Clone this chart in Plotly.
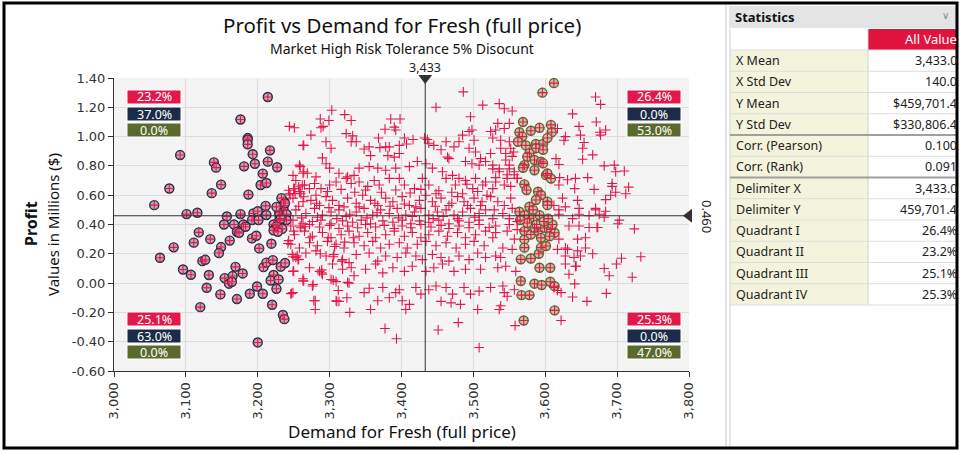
import plotly.graph_objects as go

# ---- data (x = demand, y = profit in millions) ----
red_pts = [
    # upper band
    (3244, 1.07), (3251, 1.06), (3287, 1.12), (3299, 1.11), (3288, 1.06), (3291, 1.07), (3303, 1.18),
    (3321, 1.15), (3330, 1.11), (3274, 1.01), (3263, 0.94), (3295, 0.965), (3302, 0.92), (3323, 1.02),
    (3332, 1.005), (3330, 0.965), (3337, 0.965), (3377, 1.05), (3385, 1.12), (3398, 1.12), (3392, 1.045),
    (3390, 1.065), (3368, 0.99), (3355, 0.93), (3348, 0.915), (3370, 0.925), (3378, 0.93), (3383, 0.93),
    (3404, 0.99), (3416, 0.98), (3407, 0.95), (3397, 0.94), (3290, 0.855), (3357, 0.87), (3381, 0.87),
    (3390, 0.86), (3397, 0.885), (3432, 0.99), (3436, 0.98), (3448, 1.2), (3486, 1.305), (3513, 1.215),
    (3496, 1.135), (3494, 1.035), (3498, 1.045), (3485, 1.01), (3480, 0.965), (3473, 0.93), (3462, 0.965),
    (3455, 0.91), (3464, 0.86), (3445, 0.94), (3438, 0.955), (3501, 0.975), (3494, 0.92), (3503, 0.895),
    (3510, 0.85), (3536, 1.225), (3543, 1.19), (3554, 1.175), (3670, 1.27), (3677, 1.22), (3638, 1.155),
    (3671, 1.10), (3684, 1.045), (3676, 1.03), (3677, 1.01), (3647, 1.07), (3649, 1.01), (3617, 1.055),
    (3628, 1.0), (3626, 0.975), (3654, 0.96), (3652, 0.92), (3666, 0.875), (3264, 0.94), (3534, 1.09),
    (3550, 1.09), (3543, 1.055), (3531, 1.045), (3524, 1.035), (3538, 0.975), (3527, 0.99), (3550, 0.965),
    (3552, 0.92), (3538, 0.92), (3524, 0.885), (3545, 0.885), (3556, 0.895),
    # 0.70 - 0.85
    (3258, 0.805), (3263, 0.75), (3249, 0.735), (3269, 0.75), (3281, 0.725), (3295, 0.815), (3300, 0.785),
    (3313, 0.75), (3325, 0.725), (3334, 0.735), (3341, 0.785), (3355, 0.795), (3367, 0.785), (3378, 0.77),
    (3392, 0.785), (3411, 0.795), (3422, 0.83), (3434, 0.815), (3443, 0.785), (3457, 0.76), (3471, 0.735),
    (3480, 0.715), (3489, 0.70), (3503, 0.715), (3517, 0.69), (3466, 0.85), (3489, 0.83), (3498, 0.815),
    (3508, 0.805), (3517, 0.83), (3259, 0.795), (3264, 0.76), (3652, 0.845), (3615, 0.85), (3619, 0.81),
    (3682, 0.80), (3696, 0.805), (3698, 0.76), (3710, 0.765), (3659, 0.72), (3642, 0.715), (3631, 0.705),
    (3620, 0.72), (3545, 0.84), (3554, 0.865), (3527, 0.805), (3536, 0.78), (3550, 0.805), (3557, 0.76),
    (3547, 0.74), (3531, 0.72), (3561, 0.715),
    # 0.55 - 0.70
    (3253, 0.70), (3265, 0.67), (3251, 0.645), (3244, 0.61), (3260, 0.61), (3272, 0.645), (3279, 0.68),
    (3288, 0.645), (3300, 0.67), (3309, 0.69), (3323, 0.715), (3330, 0.68), (3341, 0.69), (3353, 0.66),
    (3362, 0.70), (3369, 0.67), (3383, 0.715), (3397, 0.715), (3404, 0.67), (3418, 0.645), (3429, 0.715),
    (3438, 0.67), (3448, 0.61), (3462, 0.715), (3475, 0.67), (3485, 0.61), (3499, 0.645), (3513, 0.67),
    (3258, 0.625), (3281, 0.60), (3297, 0.625), (3316, 0.64), (3335, 0.62), (3350, 0.635), (3372, 0.62),
    (3392, 0.635), (3412, 0.615), (3427, 0.64), (3452, 0.63), (3470, 0.62), (3491, 0.675), (3506, 0.625),
    (3249, 0.58), (3263, 0.555), (3274, 0.565), (3286, 0.53), (3295, 0.59), (3304, 0.565), (3313, 0.53),
    (3325, 0.58), (3337, 0.545), (3346, 0.60), (3357, 0.565), (3367, 0.53), (3378, 0.58), (3388, 0.555),
    (3401, 0.59), (3411, 0.53), (3425, 0.565), (3434, 0.60), (3443, 0.555), (3455, 0.58), (3466, 0.53),
    (3478, 0.59), (3487, 0.555), (3501, 0.58), (3510, 0.53), (3519, 0.60),
    (3257, 0.525), (3282, 0.545), (3299, 0.515), (3320, 0.52), (3341, 0.52), (3363, 0.545), (3384, 0.525),
    (3404, 0.54), (3420, 0.52), (3447, 0.525), (3470, 0.545), (3492, 0.53), (3512, 0.555),
    # 0.40 - 0.52
    (3253, 0.50), (3267, 0.475), (3279, 0.51), (3290, 0.465), (3302, 0.485), (3313, 0.50), (3323, 0.455),
    (3337, 0.485), (3348, 0.51), (3360, 0.465), (3371, 0.50), (3383, 0.475), (3394, 0.51), (3406, 0.465),
    (3418, 0.485), (3427, 0.51), (3438, 0.465), (3450, 0.485), (3462, 0.50), (3473, 0.465), (3485, 0.485),
    (3496, 0.51), (3508, 0.475), (3517, 0.50),
    (3261, 0.445), (3283, 0.45), (3310, 0.44), (3328, 0.47), (3352, 0.445), (3366, 0.48), (3396, 0.445),
    (3415, 0.455), (3444, 0.44), (3458, 0.455), (3478, 0.44), (3502, 0.45),
    (3249, 0.43), (3263, 0.405), (3276, 0.42), (3288, 0.43), (3302, 0.405), (3318, 0.425), (3332, 0.415),
    (3344, 0.43), (3357, 0.405), (3374, 0.425), (3388, 0.415), (3401, 0.43), (3413, 0.405), (3425, 0.425),
    (3438, 0.415), (3452, 0.43), (3466, 0.405), (3480, 0.425), (3494, 0.415), (3508, 0.43),
    # right side 0.40 - 0.70
    (3624, 0.58), (3645, 0.565), (3628, 0.52), (3647, 0.51), (3670, 0.51), (3684, 0.49), (3619, 0.50),
    (3612, 0.53), (3641, 0.645), (3668, 0.64), (3693, 0.66), (3691, 0.60), (3716, 0.655), (3712, 0.61),
    (3619, 0.67), (3527, 0.78), (3536, 0.76), (3550, 0.78), (3557, 0.74), (3547, 0.715), (3531, 0.69),
    (3543, 0.67), (3527, 0.645), (3552, 0.66), (3561, 0.715), (3524, 0.59), (3534, 0.555), (3543, 0.53),
    (3552, 0.58), (3529, 0.50), (3541, 0.475), (3554, 0.51), (3527, 0.44), (3550, 0.44), (3561, 0.42),
    (3619, 0.47), (3638, 0.44), (3647, 0.47), (3661, 0.46), (3670, 0.50), (3675, 0.47), (3682, 0.45),
    (3703, 0.43), (3693, 0.68), (3698, 0.62), (3684, 0.57),
    # 0.30 - 0.40
    (3246, 0.39), (3260, 0.378), (3272, 0.40), (3286, 0.383), (3300, 0.394), (3313, 0.373), (3325, 0.39),
    (3339, 0.378), (3350, 0.40), (3364, 0.383), (3376, 0.394), (3390, 0.373), (3401, 0.39), (3413, 0.378),
    (3427, 0.40), (3441, 0.383), (3455, 0.394), (3466, 0.373), (3480, 0.39), (3494, 0.378), (3508, 0.40),
    (3251, 0.33), (3265, 0.355), (3276, 0.32), (3290, 0.345), (3302, 0.31), (3316, 0.33), (3327, 0.355),
    (3341, 0.32), (3353, 0.345), (3364, 0.31), (3378, 0.33), (3390, 0.355), (3404, 0.32), (3415, 0.345),
    (3427, 0.31), (3438, 0.33), (3452, 0.355), (3464, 0.32), (3478, 0.345), (3489, 0.31), (3503, 0.33),
    (3517, 0.355),
    # 0.15 - 0.30
    (3246, 0.265), (3258, 0.24), (3272, 0.275), (3283, 0.255), (3297, 0.285), (3309, 0.265), (3320, 0.24),
    (3334, 0.275), (3348, 0.255), (3360, 0.285), (3371, 0.24), (3383, 0.265), (3397, 0.275), (3408, 0.24),
    (3422, 0.265), (3434, 0.285), (3448, 0.255), (3462, 0.275), (3476, 0.24), (3489, 0.265), (3501, 0.285),
    (3515, 0.255),
    (3253, 0.175), (3267, 0.205), (3281, 0.22), (3295, 0.185), (3306, 0.195), (3318, 0.16), (3337, 0.195),
    (3355, 0.205), (3367, 0.15), (3378, 0.185), (3394, 0.175), (3406, 0.205), (3420, 0.185), (3429, 0.16),
    (3443, 0.195), (3455, 0.175), (3466, 0.15), (3480, 0.185), (3494, 0.16), (3506, 0.205), (3517, 0.175),
    # 0.0 - 0.15
    (3249, 0.08), (3272, 0.105), (3286, 0.08), (3304, 0.13), (3318, 0.095), (3330, 0.105), (3350, 0.095),
    (3364, 0.13), (3374, 0.07), (3388, 0.105), (3404, 0.08), (3415, 0.115), (3434, 0.08), (3445, 0.105),
    (3457, 0.13), (3473, 0.08), (3489, 0.095), (3510, 0.095),
    (3263, 0.015), (3276, -0.02), (3290, 0.06), (3302, 0.025), (3325, 0.005), (3334, 0.05), (3348, -0.065),
    (3355, -0.035), (3374, -0.03), (3383, -0.10), (3392, -0.065), (3397, -0.045), (3420, -0.03),
    (3427, -0.075), (3438, -0.045), (3448, -0.02), (3462, -0.03), (3471, -0.075), (3487, -0.03),
    # lower tail
    (3249, -0.065), (3280, -0.12), (3280, -0.18), (3309, -0.12), (3313, -0.125), (3328, -0.20),
    (3357, -0.18), (3367, -0.12), (3377, -0.31), (3393, -0.38), (3401, -0.12), (3406, -0.18),
    (3411, -0.145), (3451, -0.32), (3479, -0.27), (3508, -0.44), (3506, -0.18), (3455, -0.125),
    (3469, -0.135), (3482, -0.145), (3496, -0.075), (3508, -0.055),
    # right side below 0.40
    (3724, 0.37), (3733, 0.18), (3706, 0.17), (3699, 0.13), (3682, 0.10), (3689, 0.05), (3721, 0.04),
    (3685, -0.07), (3658, -0.125), (3638, -0.095), (3622, -0.255), (3558, -0.29), (3642, 0.115),
    (3633, 0.06), (3641, -0.005), (3617, -0.05), (3622, -0.065), (3612, -0.03), (3628, 0.24), (3645, 0.30),
    (3656, 0.31), (3656, 0.24), (3666, 0.20), (3649, 0.185), (3640, 0.175), (3628, 0.185), (3628, 0.13),
    (3643, 0.115), (3633, 0.39), (3647, 0.39), (3661, 0.38), (3672, 0.38), (3524, -0.03), (3541, -0.02),
    (3543, -0.065), (3547, -0.09), (3538, -0.155), (3536, -0.18), (3557, -0.045), (3559, 0.08),
    (3531, 0.185), (3538, 0.175), (3534, 0.105), (3545, 0.115), (3554, 0.23), (3541, 0.24), (3557, 0.30),
    (3527, 0.31), (3531, 0.345), (3547, 0.355), (3561, 0.365), (3522, 0.38), (3531, 0.39), (3550, 0.40),
    (3619, 0.30), (3617, 0.23), (3631, 0.23), (3645, 0.22), (3673, 0.38), (3701, 0.405),
    # left edge of the red cloud
    (3247, -0.07), (3263, 0.03), (3277, -0.01), (3278, -0.12), (3310, -0.125), (3324, -0.10),
    (3289, 0.09), (3289, 0.07), (3305, 0.02), (3309, 0.01), (3312, -0.05), (3327, 0.0), (3317, 0.15),
    (3327, 0.14), (3305, 0.18), (3287, 0.20), (3249, 0.18), (3256, 0.16), (3242, 0.27), (3273, 0.31),
    (3298, 0.31), (3307, 0.25), (3321, 0.28), (3333, 0.31), (3259, 0.39), (3266, 0.385),
    (3250, 0.355), (3243, 0.29), (3248, 0.196), (3255, 0.185), (3257, 0.162), (3250, 0.082), (3264, 0.014),
    (3246, -0.073), (3243, 0.634), (3250, 0.646), (3257, 0.658), (3262, 0.669), (3245, 0.601),
    (3252, 0.612), (3259, 0.624), (3264, 0.589),
]

dark_pts = [
    (3214, 1.27), (3176, 1.117), (3186, 0.99), (3186, 0.979), (3186, 0.947), (3092, 0.874), (3217, 0.906),
    (3193, 0.88), (3139, 0.824), (3142, 0.788), (3181, 0.797), (3196, 0.815), (3214, 0.829), (3227, 0.791),
    (3207, 0.747), (3077, 0.646), (3149, 0.672), (3204, 0.67), (3212, 0.683), (3136, 0.614), (3187, 0.604),
    (3056, 0.532), (3101, 0.471), (3116, 0.48), (3211, 0.527), (3236, 0.56), (3236, 0.53), (3236, 0.50),
    (3157, 0.455), (3176, 0.471), (3194, 0.475), (3200, 0.49), (3212, 0.465), (3230, 0.48), (3230, 0.465),
    (3230, 0.43), (3153, 0.40), (3167, 0.40), (3180, 0.40), (3192, 0.43), (3201, 0.43), (3222, 0.40),
    (3118, 0.346), (3134, 0.30), (3111, 0.276), (3083, 0.244), (3064, 0.173), (3161, 0.29), (3149, 0.246),
    (3146, 0.205), (3171, 0.35), (3174, 0.343), (3183, 0.385), (3192, 0.305), (3198, 0.323), (3202, 0.237),
    (3219, 0.269), (3225, 0.378), (3222, 0.36), (3227, 0.39), (3123, 0.15), (3127, 0.159), (3096, 0.093),
    (3107, 0.057), (3132, 0.055), (3169, 0.111), (3154, 0.034), (3165, 0.048), (3160, -0.004),
    (3164, 0.009), (3179, 0.066), (3208, 0.109), (3212, 0.14), (3221, 0.157), (3232, 0.112),
    (3238, 0.137), (3222, 0.055), (3218, 0.018), (3229, 0.025), (3199, -0.023), (3226, -0.039),
    (3129, -0.032), (3148, -0.077), (3171, -0.109), (3189, -0.073), (3207, -0.073), (3220, -0.148),
    (3120, -0.164), (3235, -0.218), (3237, -0.246), (3200, -0.405), (3233, 0.58), (3238, 0.545),
    (3226, 0.52), (3240, 0.47), (3234, 0.37), (3228, 0.35), (3240, 0.43), (3232, 0.44),
]

green_pts = [
    (3612, 1.365), (3596, 1.30), (3569, 1.10), (3580, 1.04), (3592, 1.06), (3608, 1.08), (3609, 1.03),
    (3564, 1.03), (3568, 1.0), (3562, 0.965), (3573, 0.94), (3587, 0.95), (3597, 0.95), (3603, 0.99),
    (3587, 0.92), (3597, 0.91), (3578, 0.886), (3575, 0.862), (3585, 0.84), (3594, 0.828), (3571, 0.805),
    (3585, 0.77), (3569, 0.787), (3597, 0.817), (3601, 0.737), (3608, 0.714), (3603, 0.748), (3571, 0.674),
    (3574, 0.635), (3590, 0.624), (3594, 0.601), (3603, 0.556), (3587, 0.567), (3578, 0.521), (3592, 0.464),
    (3564, 0.487), (3583, 0.50), (3603, 0.532), (3578, 0.442), (3571, 0.464), (3571, 0.298), (3571, 0.242),
    (3566, 0.162), (3580, 0.168), (3591, 0.20), (3594, 0.242), (3601, 0.253), (3571, 0.355), (3580, 0.332),
    (3590, 0.355), (3599, 0.377), (3608, 0.366), (3613, 0.344), (3585, 0.377), (3594, 0.309), (3606, 0.32),
    (3592, 0.105), (3607, 0.105), (3566, 0.014), (3585, -0.004), (3595, -0.013), (3607, 0.009),
    (3613, -0.021), (3567, -0.082), (3578, -0.082), (3613, -0.186), (3570, -0.255), (3588, 0.40),
    (3598, 0.42), (3610, 0.40), (3575, 0.41), (3604, 0.44), (3565, 0.43),
]

delim_x = 3433.0
delim_y = 0.4597

y_tickvals = [-0.6, -0.4, -0.2, 0.0, 0.2, 0.4, 0.6, 0.8, 1.0, 1.2, 1.4]
y_ticktext = ["-0.60", "-0.40", "-0.20", "0.00", "0.20", "0.40", "0.60", "0.80", "1.00", "1.20", "1.40"]

quad_tl = ["23.2%", "37.0%", "0.0%"]
quad_tr = ["26.4%", "0.0%", "53.0%"]
quad_bl = ["25.1%", "63.0%", "0.0%"]
quad_br = ["25.3%", "0.0%", "47.0%"]

stat_labels = ["X Mean", "X Std Dev", "Y Mean", "Y Std Dev", "Corr. (Pearson)", "Corr. (Rank)",
               "Delimiter X", "Delimiter Y", "Quadrant I", "Quadrant II", "Quadrant III", "Quadrant IV"]
stat_values = ["3,433.0", "140.0", "$459,701.4", "$330,806.4", "0.100", "0.091",
               "3,433.0", "459,701.4", "26.4%", "23.2%", "25.1%", "25.3%"]

RED = "#e3184a"
NAVY = "#1c2b48"
OLIVE = "#5b6a2c"

# plot area in pixels: x 114..689, y 78..371
def px(x):
    return (x - 114) / 575.0


def py(y):
    return (371 - y) / 293.0


def note(text, x, y, size, color="#111111", family="Noto Sans", xanchor="center", **kw):
    return dict(text=text, x=px(x), y=py(y), xref="paper", yref="paper", showarrow=False,
                xanchor=xanchor, yanchor="middle", font=dict(family=family, size=size, color=color), **kw)


all_pts = red_pts + dark_pts + green_pts

fig = go.Figure()
fig.add_trace(go.Scatter(
    x=[p[0] for p in dark_pts], y=[p[1] for p in dark_pts], mode="markers",
    marker=dict(symbol="circle", size=9, color="#c2a8b3", line=dict(color=NAVY, width=1.4)),
    hoverinfo="skip"))
fig.add_trace(go.Scatter(
    x=[p[0] for p in green_pts], y=[p[1] for p in green_pts], mode="markers",
    marker=dict(symbol="circle", size=9, color="#c9c0a6", line=dict(color=OLIVE, width=1.4)),
    hoverinfo="skip"))
fig.add_trace(go.Scatter(
    x=[p[0] for p in all_pts], y=[p[1] for p in all_pts], mode="markers",
    marker=dict(symbol="cross-thin", size=7, line=dict(color=RED, width=1.1)),
    hoverinfo="skip"))
# delimiter markers
fig.add_trace(go.Scatter(x=[delim_x], y=[1.4], mode="markers", cliponaxis=False,
                         marker=dict(symbol="triangle-down", size=12, color="#333333"), hoverinfo="skip"))
fig.add_trace(go.Scatter(x=[3800], y=[delim_y], mode="markers", cliponaxis=False,
                         marker=dict(symbol="triangle-left", size=12, color="#333333"), hoverinfo="skip"))

shapes = [
    dict(type="line", xref="x", yref="y", x0=delim_x, x1=delim_x, y0=-0.6, y1=1.4,
         line=dict(color="#333333", width=1)),
    dict(type="line", xref="x", yref="y", x0=3000, x1=3800, y0=delim_y, y1=delim_y,
         line=dict(color="#333333", width=1)),
]

annotations = [
    note("Profit vs Demand for Fresh (full price)", 402, 24.5, 20.5),
    note("Market High Risk Tolerance 5% Disocunt", 402, 48.5, 14),
    note("<b>Profit</b>", 31, 224, 16, textangle=-90),
    note("Values in Millions ($)", 53, 225, 15, textangle=-90),
    note("Demand for Fresh (full price)", 402, 431, 17),
    note("3,433", 114 + (delim_x - 3000) * 0.71875, 68, 12.5, color="#222222"),
    note("0.460", 707, 216, 13, color="#222222", textangle=90),
]

box_cols = [RED, NAVY, OLIVE]
for labels, cx, cys in [(quad_tl, 154, (97, 114, 130)), (quad_tr, 654, (97, 114, 130)),
                        (quad_bl, 154, (319, 336, 352)), (quad_br, 654, (319, 336, 352))]:
    for lab, col, cy in zip(labels, box_cols, cys):
        shapes.append(dict(type="rect", xref="paper", yref="paper", x0=px(cx - 27), x1=px(cx + 27),
                           y0=py(cy + 7), y1=py(cy - 7), fillcolor=col,
                           line=dict(color="#ffffff", width=1)))
        annotations.append(note(lab, cx, cy, 12.5, color="#ffffff", height=15, borderpad=0))

# statistics panel
shapes.append(dict(type="line", xref="paper", yref="paper", x0=px(726), x1=px(726), y0=py(448), y1=py(4),
                   line=dict(color="#c8c8c8", width=1)))
shapes.append(dict(type="rect", xref="paper", yref="paper", x0=px(729), x1=px(957), y0=py(28), y1=py(6),
                   fillcolor="#e4e4e4", line=dict(width=0)))
annotations.append(note("<b>Statistics</b>", 733, 17, 13, xanchor="left"))
annotations.append(note("\u2228", 945, 16, 10, color="#888888", family="DejaVu Sans"))
shapes.append(dict(type="rect", xref="paper", yref="paper", x0=px(868), x1=px(957), y0=py(50), y1=py(29),
                   fillcolor="#e0143c", line=dict(width=0)))
annotations.append(note("All Value", 959, 39, 13, color="#ffffff", xanchor="right"))
row_h = 21.25
top = 50
n_rows = len(stat_labels)
shapes.append(dict(type="rect", xref="paper", yref="paper", x0=px(730), x1=px(868),
                   y0=py(top + row_h * n_rows), y1=py(top), fillcolor="#f4f4dd", line=dict(width=0)))
shapes.append(dict(type="line", xref="paper", yref="paper", x0=px(868), x1=px(868),
                   y0=py(top + row_h * n_rows), y1=py(29), line=dict(color="#d0d0d0", width=1)))
shapes.append(dict(type="line", xref="paper", yref="paper", x0=px(730), x1=px(730),
                   y0=py(448), y1=py(29), line=dict(color="#d0d0d0", width=1)))
for i, (lab, val) in enumerate(zip(stat_labels, stat_values)):
    yc = top + row_h * (i + 0.5)
    annotations.append(note(lab, 734, yc, 12.5, color="#222222", xanchor="left"))
    annotations.append(note(val, 959, yc, 12.5, color="#222222", xanchor="right"))
for i in range(n_rows + 1):
    yl = top + row_h * i
    heavy = i in (4, 6)
    shapes.append(dict(type="line", xref="paper", yref="paper", x0=px(730), x1=px(957), y0=py(yl), y1=py(yl),
                       line=dict(color="#a0a0a0" if heavy else "#dddddd", width=2 if heavy else 1)))

# outer frame
shapes.append(dict(type="rect", xref="paper", yref="paper", x0=px(4), x1=px(957), y0=py(448), y1=py(3),
                   line=dict(color="#000000", width=3)))

fig.update_layout(
    width=960, height=451, autosize=False,
    margin=dict(l=114, r=271, t=78, b=80, pad=0),
    paper_bgcolor="#ffffff", plot_bgcolor="#f4f4f4",
    showlegend=False,
    shapes=shapes, annotations=annotations,
    xaxis=dict(range=[3000, 3800], dtick=100, tick0=3000, tickformat=",", tickangle=-90,
               showgrid=True, gridcolor="#dcdcdc", zeroline=False,
               showline=True, linecolor="#333333", linewidth=1, ticks="outside", ticklen=5,
               tickcolor="#333333", tickfont=dict(family="DejaVu Sans", size=13, color="#333333")),
    yaxis=dict(range=[-0.6, 1.4], tickvals=y_tickvals, ticktext=y_ticktext,
               showgrid=True, gridcolor="#dcdcdc", zeroline=False,
               showline=True, linecolor="#333333", linewidth=1, ticks="outside", ticklen=5,
               tickcolor="#333333", tickfont=dict(family="DejaVu Sans", size=13, color="#333333")),
)

fig.write_html("out.html", config={"displayModeBar": False},
               post_script="document.body.style.margin='0px';")
